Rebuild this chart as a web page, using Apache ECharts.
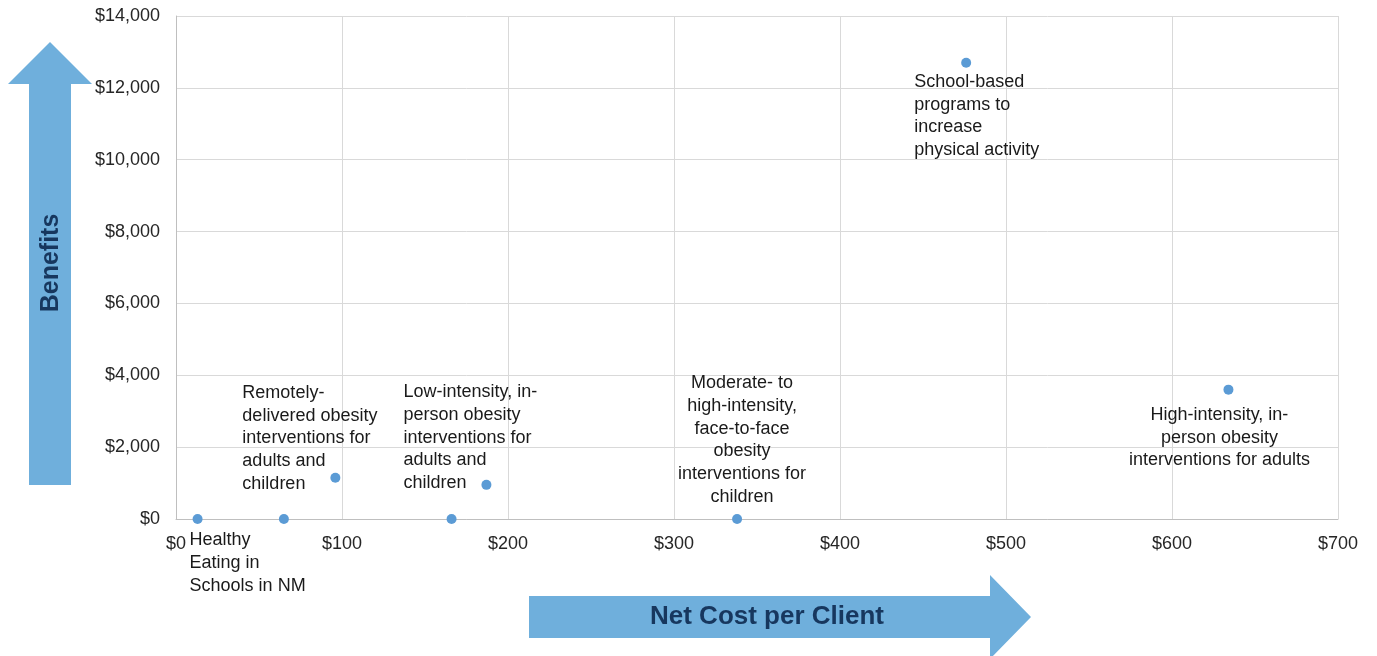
<!DOCTYPE html>
<html>
<head>
<meta charset="utf-8">
<script src="https://cdn.jsdelivr.net/npm/echarts@6/dist/echarts.min.js"></script>
<style>
  html, body { margin: 0; padding: 0; background: #fff; }
  #chart { width: 1377px; height: 656px; }
</style>
</head>
<body>
<div id="chart"></div>
<script>
// Programs plotted by net cost per client (x) and benefits per client (y)
const programLabels = [
  'Healthy\nEating in\nSchools in NM',
  '',
  'Remotely-\ndelivered obesity\ninterventions for\nadults and\nchildren',
  '',
  'Low-intensity, in-\nperson obesity\ninterventions for\nadults and\nchildren',
  'Moderate- to\nhigh-intensity,\nface-to-face\nobesity\ninterventions for\nchildren',
  'School-based\nprograms to\nincrease\nphysical activity',
  'High-intensity, in-\nperson obesity\ninterventions for adults'
];
const netCost  = [13, 65, 96, 166, 187, 338, 476, 634];
const benefits = [0, 0, 1150, 0, 950, 0, 12700, 3600];

// Axis ranges
const xMin = 0, xMax = 700, xStep = 100;
const yMin = 0, yMax = 14000, yStep = 2000;

// Label placement relative to each point (align, offset)
const labelPlacement = [
  { align: 'left',   offset: [-8, 10] },
  null,
  { align: 'left',   offset: [-93, -96] },
  null,
  { align: 'left',   offset: [-83, -104] },
  { align: 'center', offset: [5, -147] },
  { align: 'left',   offset: [-52, 8] },
  { align: 'center', offset: [-9, 14] }
];

const money = v => '$' + v.toLocaleString('en-US');
const font = 'Liberation Sans, Arial';

const points = netCost.map((x, i) => {
  const p = labelPlacement[i];
  const item = { value: [x, benefits[i]], name: programLabels[i] };
  if (p && programLabels[i]) {
    item.label = {
      show: true,
      position: 'inside',
      align: p.align,
      verticalAlign: 'top',
      offset: p.offset,
      formatter: programLabels[i]
    };
  }
  return item;
});

const arrowBlue = '#6fafdc';
const navy = '#17375e';

const chart = echarts.init(document.getElementById('chart'), null, { renderer: 'canvas' });
chart.setOption({
  animation: false,
  backgroundColor: '#ffffff',
  grid: { left: 176, right: 39, top: 16, bottom: 137, containLabel: false },
  xAxis: {
    type: 'value', min: xMin, max: xMax, interval: xStep,
    axisLine: { show: true, lineStyle: { color: '#bfbfbf', width: 1 } },
    axisTick: { show: false },
    splitLine: { show: true, lineStyle: { color: '#d9d9d9', width: 1 } },
    axisLabel: {
      formatter: money, color: '#262626', fontFamily: font,
      fontSize: 18, margin: 16
    }
  },
  yAxis: {
    type: 'value', min: yMin, max: yMax, interval: yStep,
    axisLine: { show: true, lineStyle: { color: '#bfbfbf', width: 1 } },
    axisTick: { show: false },
    splitLine: { show: true, lineStyle: { color: '#d9d9d9', width: 1 } },
    axisLabel: {
      formatter: money, color: '#262626', fontFamily: font,
      fontSize: 18, margin: 16
    }
  },
  series: [{
    type: 'scatter',
    symbol: 'circle',
    symbolSize: 10,
    itemStyle: { color: '#5b9bd5', opacity: 1 },
    label: {
      show: false,
      color: '#1a1a1a',
      fontFamily: font,
      fontSize: 18,
      lineHeight: 22.7
    },
    emphasis: { disabled: true },
    data: points
  }],
  graphic: [
    // Vertical "Benefits" arrow
    {
      type: 'polygon', z: 10,
      shape: { points: [[29, 485], [29, 84], [8, 84], [50, 42], [92, 84], [71, 84], [71, 485]] },
      style: { fill: arrowBlue }
    },
    {
      type: 'text', z: 11, x: 51, y: 263, rotation: Math.PI / 2,
      style: {
        text: 'Benefits', fill: navy, fontFamily: font,
        fontSize: 25, fontWeight: 'bold', align: 'center', verticalAlign: 'middle'
      }
    },
    // Horizontal "Net Cost per Client" arrow
    {
      type: 'polygon', z: 10,
      shape: { points: [[529, 596], [990, 596], [990, 575], [1031, 617], [990, 659], [990, 638], [529, 638]] },
      style: { fill: arrowBlue }
    },
    {
      type: 'text', z: 11, x: 767, y: 617,
      style: {
        text: 'Net Cost per Client', fill: navy, fontFamily: font,
        fontSize: 26, fontWeight: 'bold', align: 'center', verticalAlign: 'middle'
      }
    }
  ]
});
</script>
</body>
</html>
